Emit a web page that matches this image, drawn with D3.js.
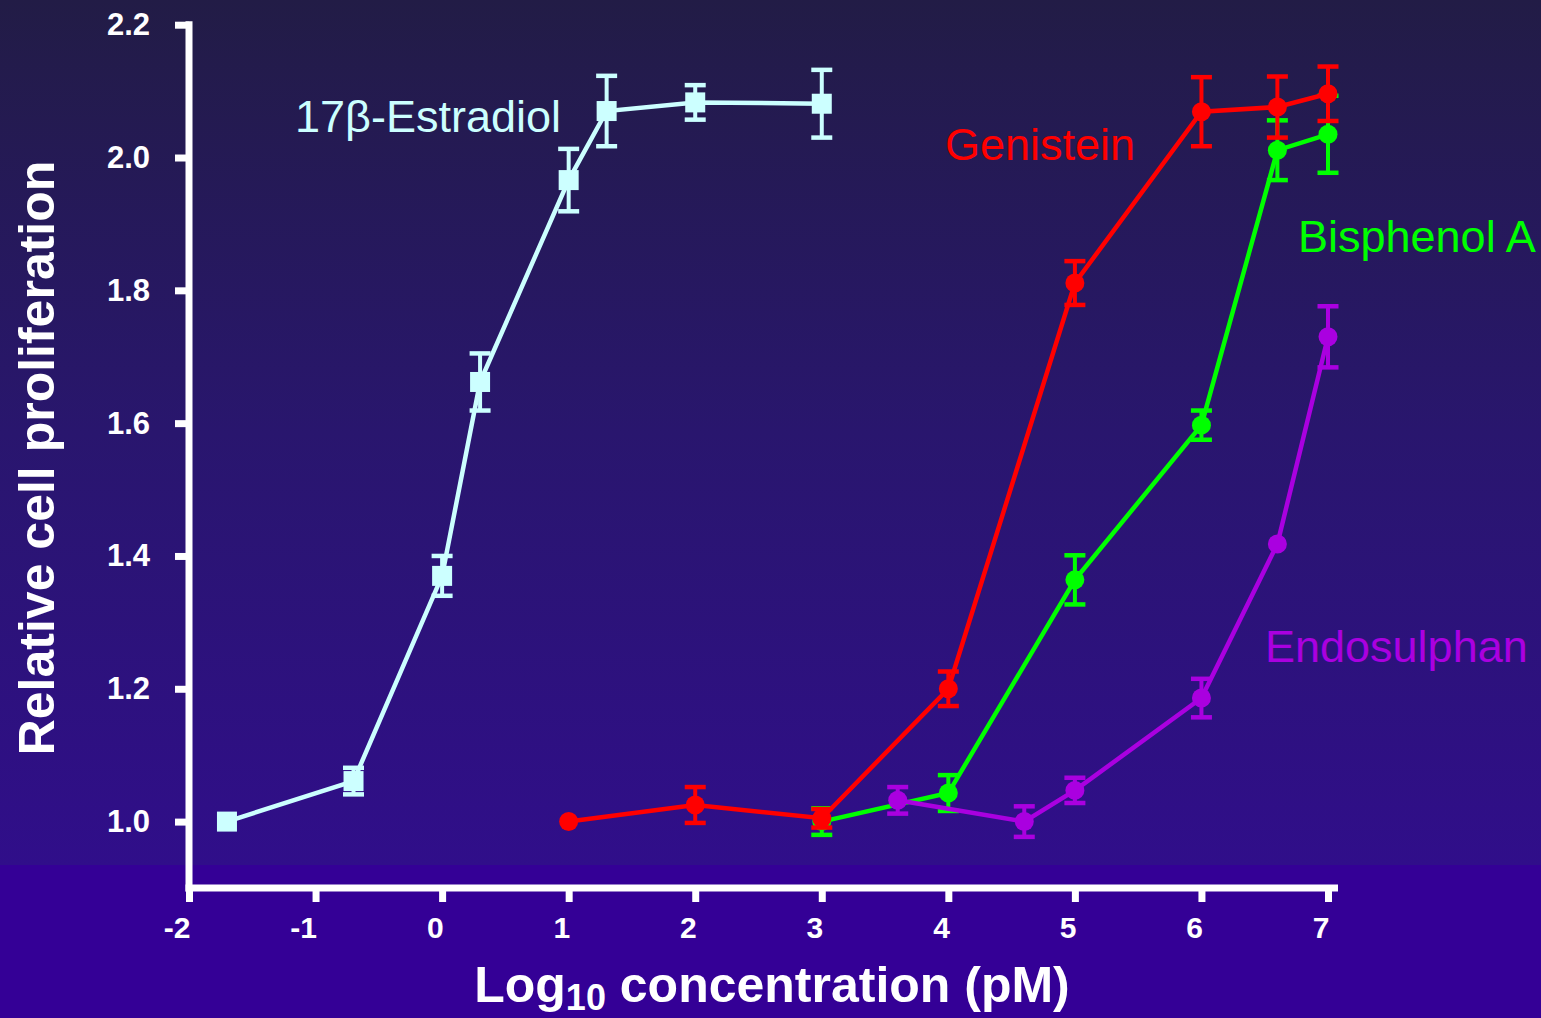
<!DOCTYPE html>
<html>
<head>
<meta charset="utf-8">
<script src="https://cdn.jsdelivr.net/npm/d3@7"></script>
<style>
html,body{margin:0;padding:0;background:#2a1570;}
svg{display:block;}
</style>
</head>
<body>
<svg id="chart" width="1541" height="1018"></svg>
<script>
// ---- data ----
const xTicks = [-2, -1, 0, 1, 2, 3, 4, 5, 6, 7];
const xTickLabels = ["-2", "-1", "0", "1", "2", "3", "4", "5", "6", "7"];
const yTicks = [1.0, 1.2, 1.4, 1.6, 1.8, 2.0, 2.2];
const yTickLabels = ["1.0", "1.2", "1.4", "1.6", "1.8", "2.0", "2.2"];

const estradiolX   = [-1.7, -0.7, 0.0, 0.3, 1.0, 1.3, 2.0, 3.0];
const estradiolY   = [1.00, 1.061, 1.370, 1.662, 1.966, 2.070, 2.083, 2.081];
const estradiolErr = [0, 0.02, 0.03, 0.043, 0.047, 0.053, 0.026, 0.051];

const bisphenolX   = [3.0, 4.0, 5.0, 6.0, 6.6, 7.0];
const bisphenolY   = [1.00, 1.043, 1.364, 1.597, 2.011, 2.035];
const bisphenolErr = [0.02, 0.027, 0.037, 0.022, 0.045, 0.058];

const endosulphanX   = [3.6, 4.6, 5.0, 6.0, 6.6, 7.0];
const endosulphanY   = [1.032, 1.00, 1.047, 1.186, 1.418, 1.730];
const endosulphanErr = [0.02, 0.023, 0.019, 0.029, 0, 0.046];

const genisteinX   = [1.0, 2.0, 3.0, 4.0, 5.0, 6.0, 6.6, 7.0];
const genisteinY   = [1.00, 1.025, 1.005, 1.200, 1.811, 2.069, 2.076, 2.096];
const genisteinErr = [0, 0.027, 0.014, 0.026, 0.033, 0.052, 0.046, 0.041];

const seriesNames = ["17β-Estradiol", "Bisphenol A", "Endosulphan", "Genistein"];

// ---- setup ----
const W = 1541, H = 1018;
const FONT = "'Liberation Sans', Arial, Helvetica, sans-serif";
const svg = d3.select("#chart");

const defs = svg.append("defs");
const grad = defs.append("linearGradient").attr("id", "bg")
  .attr("x1", 0).attr("y1", 0).attr("x2", 0).attr("y2", 1);
grad.append("stop").attr("offset", "0%").attr("stop-color", "#221c46");
grad.append("stop").attr("offset", "50%").attr("stop-color", "#29166e");
grad.append("stop").attr("offset", "100%").attr("stop-color", "#300e8a");

svg.append("rect").attr("x", 0).attr("y", 0).attr("width", W).attr("height", 865)
  .attr("fill", "url(#bg)");
svg.append("rect").attr("x", 0).attr("y", 865).attr("width", W).attr("height", H - 865)
  .attr("fill", "#340096");

const x = d3.scaleLinear().domain([-2, 7]).range([189, 1328]);
const y = d3.scaleLinear().domain([0.9, 2.2]).range([888, 24.7]);

// ---- axes ----
const axW = 7;
const axisG = svg.append("g");
axisG.append("line")
  .attr("x1", x(-2)).attr("x2", x(-2))
  .attr("y1", y(2.2) - 3.5).attr("y2", y(0.9) + 3.5)
  .attr("stroke", "#fff").attr("stroke-width", axW);
axisG.append("line")
  .attr("x1", x(-2) - 3.5).attr("x2", 1338)
  .attr("y1", y(0.9)).attr("y2", y(0.9))
  .attr("stroke", "#fff").attr("stroke-width", axW);

// y ticks
const yAxis = d3.axisLeft(y).tickValues(yTicks)
  .tickFormat((d, i) => yTickLabels[i])
  .tickSize(14).tickPadding(25);
const gy = svg.append("g").attr("transform", `translate(${x(-2)},0)`).call(yAxis);
gy.select(".domain").remove();
gy.selectAll(".tick line").attr("stroke", "#fff").attr("stroke-width", axW);
gy.selectAll(".tick text").attr("fill", "#fff")
  .style("font-family", FONT).style("font-weight", "bold").style("font-size", "31px");

// x ticks
const xAxis = d3.axisBottom(x).tickValues(xTicks)
  .tickFormat((d, i) => xTickLabels[i])
  .tickSize(14).tickPadding(15);
const gx = svg.append("g").attr("transform", `translate(0,${y(0.9)})`).call(xAxis);
gx.select(".domain").remove();
gx.selectAll(".tick line").attr("stroke", "#fff").attr("stroke-width", axW);
gx.selectAll(".tick text").attr("fill", "#fff")
  .attr("text-anchor", "end").attr("x", 1).attr("dy", "0.71em")
  .style("font-family", FONT).style("font-weight", "bold").style("font-size", "30px");

// axis titles
svg.append("text")
  .attr("transform", `translate(54,458) rotate(-90)`)
  .attr("text-anchor", "middle")
  .attr("fill", "#fff")
  .style("font-family", FONT).style("font-weight", "bold").style("font-size", "50px")
  .text("Relative cell proliferation");

const xt = svg.append("text")
  .attr("x", 772).attr("y", 1002)
  .attr("text-anchor", "middle")
  .attr("fill", "#fff")
  .style("font-family", FONT).style("font-weight", "bold").style("font-size", "50px");
xt.append("tspan").text("Log");
xt.append("tspan").attr("dy", 8).style("font-size", "36px").text("10");
xt.append("tspan").attr("dy", -8).text(" concentration (pM)");

// ---- series ----
function drawSeries(xs, ys, errs, color, shape) {
  const g = svg.append("g");
  const pts = xs.map((v, i) => ({ x: v, y: ys[i], e: errs[i] }));
  const capW = 21;
  pts.filter(p => p.e > 0).forEach(p => {
    const cx = x(p.x);
    g.append("line").attr("x1", cx).attr("x2", cx)
      .attr("y1", y(p.y + p.e)).attr("y2", y(p.y - p.e))
      .attr("stroke", color).attr("stroke-width", 4);
    [p.y + p.e, p.y - p.e].forEach(v => {
      g.append("line").attr("x1", cx - capW / 2).attr("x2", cx + capW / 2)
        .attr("y1", y(v)).attr("y2", y(v))
        .attr("stroke", color).attr("stroke-width", 4.5);
    });
  });
  g.append("path").datum(pts)
    .attr("d", d3.line().x(d => x(d.x)).y(d => y(d.y)))
    .attr("fill", "none").attr("stroke", color).attr("stroke-width", 4.5);
  if (shape === "square") {
    g.selectAll("rect.m").data(pts).join("rect")
      .attr("x", d => x(d.x) - 10).attr("y", d => y(d.y) - 10)
      .attr("width", 20).attr("height", 20).attr("fill", color);
  } else {
    g.selectAll("circle.m").data(pts).join("circle")
      .attr("cx", d => x(d.x)).attr("cy", d => y(d.y))
      .attr("r", 9.5).attr("fill", color);
  }
}

const cEstr = "#ccffff", cBis = "#00ff00", cEndo = "#aa00e0", cGen = "#ff0000";
drawSeries(estradiolX, estradiolY, estradiolErr, cEstr, "square");
drawSeries(bisphenolX, bisphenolY, bisphenolErr, cBis, "circle");
drawSeries(endosulphanX, endosulphanY, endosulphanErr, cEndo, "circle");
drawSeries(genisteinX, genisteinY, genisteinErr, cGen, "circle");

const labels = [
  { t: seriesNames[0], c: cEstr, x: 295, y: 132 },
  { t: seriesNames[3], c: cGen, x: 945, y: 160 },
  { t: seriesNames[1], c: cBis, x: 1298, y: 252 },
  { t: seriesNames[2], c: cEndo, x: 1265, y: 662 }
];
svg.selectAll("text.lbl").data(labels).join("text")
  .attr("class", "lbl")
  .attr("x", d => d.x).attr("y", d => d.y)
  .attr("fill", d => d.c)
  .style("font-family", FONT).style("font-size", "45px")
  .text(d => d.t);
</script>
</body>
</html>
